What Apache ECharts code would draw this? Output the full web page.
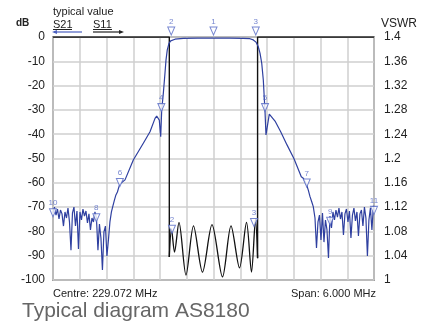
<!DOCTYPE html>
<html><head><meta charset="utf-8">
<script src="https://cdn.jsdelivr.net/npm/echarts@6.0.0/dist/echarts.min.js"></script>
<style>html,body{margin:0;padding:0;background:#fff}#c{width:428px;height:329px}</style>
</head><body><div id="c"></div>
<script>
// Frequency offsets from centre (MHz), S21 in dB
const s21Freq = [
 -3, -2.972, -2.944, -2.916, -2.888, -2.86, -2.832, -2.804, -2.776, -2.748,
 -2.72, -2.692, -2.664, -2.636, -2.608, -2.58, -2.552, -2.524, -2.496, -2.468,
 -2.44, -2.412, -2.384, -2.356, -2.328, -2.3, -2.272, -2.244, -2.216, -2.188,
 -2.16, -2.132, -2.104, -2.076, -2.048, -2.02, -1.992, -1.964, -1.936, -1.908,
 -1.88, -1.852, -1.824, -1.796, -1.768, -1.75,
 -1.654, -1.499, -1.312, -1.187, -1.093, -1.062, -1.013, -0.987, -0.968, -0.938,
 -0.907, -0.888, -0.864, -0.832, -0.8, -0.72, -0.564, -0.3, 0, 0.3,
 0.551, 0.682, 0.744, 0.794, 0.837, 0.869, 0.901, 0.931, 0.963, 0.981,
 1.043, 1.15, 1.256, 1.374, 1.505, 1.641, 1.679, 1.742, 1.772, 1.804, 1.836, 1.865,
 1.897, 1.925, 1.953, 1.981, 2.009, 2.037, 2.065, 2.093, 2.121, 2.149,
 2.177, 2.205, 2.233, 2.261, 2.289, 2.317, 2.345, 2.373, 2.401, 2.429,
 2.457, 2.485, 2.513, 2.541, 2.569, 2.597, 2.625, 2.653, 2.681, 2.709,
 2.737, 2.765, 2.793, 2.821, 2.849, 2.877, 2.905, 2.933, 2.961, 2.989, 3.0
];
const s21Db = [
 -72.4, -70.0, -73.3, -70.8, -74.9, -71.2, -72.8, -77.8, -72.0, -74.5,
 -70.4, -76.1, -87.7, -72.4, -70.0, -77.8, -71.6, -87.2, -72.0, -75.3,
 -70.8, -73.7, -71.6, -76.5, -72.8, -79.4, -74.5, -76.1, -72.0, -74.5,
 -87.7, -77.0, -82.7, -95.9, -80.2, -77.8, -90.1, -83.5, -76.1, -72.0,
 -69.5, -67.1, -65.0, -63.8, -61.7, -60.5,
 -58.8, -50.6, -43.7, -39.0, -33.5, -32.5, -34.2, -41.0, -30.0, -23.2,
 -14.9, -9.5, -5.3, -2.6, -1.6, -0.9, -0.6, -0.5, -0.5, -0.5,
 -0.6, -0.7, -1.2, -2.1, -4.0, -6.6, -10.7, -17.7, -30.7, -40.3,
 -31.7, -34.6, -39.0, -44.4, -50.1, -57.5, -58.1, -60.9, -63.0, -65.7, -67.8, -69.8,
 -74.5, -86.8, -76.1, -73.3, -83.5, -72.4, -84.4, -75.3, -79.4, -90.9,
 -73.7, -78.6, -72.0, -75.3, -71.2, -74.1, -70.4, -74.9, -72.0, -81.5,
 -72.8, -70.8, -76.1, -71.6, -82.7, -73.3, -70.4, -75.7, -72.0, -81.9,
 -72.8, -71.2, -77.8, -70.0, -74.5, -90.1, -75.3, -70.4, -79.4, -69.5, -72.0
];
// S11 (VSWR) passband ripple
const s11Freq = [-0.826, -0.785, -0.729, -0.645, -0.514, -0.374, -0.206, -0.028, 0.168, 0.327, 0.486, 0.617, 0.71, 0.785, 0.824];
const s11Vswr = [1.038, 1.084, 1.046, 1.095, 1.008, 1.089, 1.013, 1.091, 1.005, 1.089, 1.02, 1.095, 1.013, 1.1, 1.036];
// S11 outside passband (at / above scale top)
const s11LeftFreq = [-3, -0.826, -0.826];
const s11LeftVswr = [1.4, 1.4, 1.038];
const s11RightFreq = [0.824, 0.824, 3];
const s11RightVswr = [1.036, 1.4, 1.4];
// markers
const s21MarkLabels = ['1', '2', '3', '4', '5', '6', '7', '8', '9', '10', '11'];
const s21MarkFreq = [0, -0.79, 0.79, -0.975, 0.963, -1.75, 1.742, -2.19, 2.18, -3.0, 3.0];
const s21MarkDb = [0.8, 0.8, 0.8, -30.7, -30.7, -61.5, -61.7, -76.0, -77.5, -74.0, -73.0];
const s11MarkLabels = ['2', '3'];
const s11MarkFreq = [-0.776, 0.757];
const s11MarkVswr = [1.077, 1.088];
// axis ticks
const dbTicks = [0, -10, -20, -30, -40, -50, -60, -70, -80, -90, -100];
const vswrTicks = ['1', '1.04', '1.08', '1.12', '1.16', '1.2', '1.24', '1.28', '1.32', '1.36', '1.4'];

const zip = (a, b) => a.map((v, i) => [v, b[i]]);
const FONT = 'Liberation Sans, Arial, sans-serif';
const BLUE = '#2f40a0';
const MBLUE = '#5468c4';
const tri = 'path://M0,0 L10,0 L5,10 Z';

const markerSeries = (labels, fr, vals, yIdx) => ({
  type: 'scatter', yAxisIndex: yIdx, clip: false, z: 10,
  symbol: tri, symbolSize: [7, 8], symbolOffset: [0, '-50%'],
  itemStyle: { color: '#fff', borderColor: MBLUE, borderWidth: 1 },
  label: { show: true, position: 'top', distance: 1, formatter: p => p.name, fontSize: 8, color: MBLUE, fontFamily: FONT },
  data: labels.map((l, i) => ({ name: l, value: [fr[i], vals[i]] }))
});

const chart = echarts.init(document.getElementById('c'));
chart.setOption({
  animation: false,
  backgroundColor: '#fff',
  grid: { left: 53, top: 37, width: 321, height: 243, show: true, borderColor: '#555', borderWidth: 1.5, backgroundColor: 'transparent' },
  xAxis: { type: 'value', min: -3, max: 3, interval: 0.5,
    axisLine: { show: false }, axisTick: { show: false }, axisLabel: { show: false },
    splitLine: { show: true, lineStyle: { color: '#cfcfcf', width: 1.5 } } },
  yAxis: [
    { type: 'value', min: -100, max: 0, interval: 10, position: 'left',
      axisLine: { show: false }, axisTick: { show: false },
      axisLabel: { margin: 8, fontSize: 12, color: '#222', fontFamily: FONT, formatter: v => String(dbTicks[Math.round(-v / 10)]) },
      splitLine: { show: true, lineStyle: { color: '#cfcfcf', width: 1.5 } } },
    { type: 'value', min: 1, max: 1.4, interval: 0.04, position: 'right',
      axisLine: { show: false }, axisTick: { show: false },
      axisLabel: { margin: 10, fontSize: 12, color: '#222', fontFamily: FONT, formatter: v => vswrTicks[Math.round((v - 1) / 0.04)] },
      splitLine: { show: false } }
  ],
  series: [
    { type: 'line', yAxisIndex: 1, data: zip(s11LeftFreq, s11LeftVswr), showSymbol: false, lineStyle: { color: '#111', width: 1.4 }, z: 4 },
    { type: 'line', yAxisIndex: 1, data: zip(s11RightFreq, s11RightVswr), showSymbol: false, lineStyle: { color: '#111', width: 1.4 }, z: 4 },
    { type: 'line', yAxisIndex: 1, data: zip(s11Freq, s11Vswr), showSymbol: false, smooth: 0.3, lineStyle: { color: '#111', width: 1.3 }, z: 4 },
    { type: 'line', yAxisIndex: 0, data: zip(s21Freq, s21Db), showSymbol: false, lineStyle: { color: BLUE, width: 1.2 }, z: 5 },
    markerSeries(s21MarkLabels, s21MarkFreq, s21MarkDb, 0),
    markerSeries(s11MarkLabels, s11MarkFreq, s11MarkVswr, 1)
  ],
  graphic: [
    { type: 'text', left: 53, top: 6, style: { text: 'typical value', fontSize: 11, fill: '#222', fontFamily: FONT } },
    { type: 'text', left: 16, top: 18, style: { text: 'dB', fontSize: 10, fontWeight: 'bold', fill: '#222', fontFamily: FONT } },
    { type: 'text', left: 53, top: 19, style: { text: 'S21', fontSize: 11, fill: '#222', fontFamily: FONT } },
    { type: 'line', shape: { x1: 53, y1: 29.5, x2: 72, y2: 29.5 }, style: { stroke: '#222', lineWidth: 1 } },
    { type: 'line', shape: { x1: 54, y1: 32, x2: 82, y2: 32 }, style: { stroke: '#4b60c0', lineWidth: 1.2 } },
    { type: 'polygon', shape: { points: [[52, 32], [57, 30], [57, 34]] }, style: { fill: '#4b60c0' } },
    { type: 'text', left: 93, top: 19, style: { text: 'S11', fontSize: 11, fill: '#222', fontFamily: FONT } },
    { type: 'line', shape: { x1: 93, y1: 29.5, x2: 112, y2: 29.5 }, style: { stroke: '#222', lineWidth: 1 } },
    { type: 'line', shape: { x1: 93, y1: 32, x2: 121, y2: 32 }, style: { stroke: '#222', lineWidth: 1.2 } },
    { type: 'polygon', shape: { points: [[124, 32], [119, 30], [119, 34]] }, style: { fill: '#222' } },
    { type: 'text', left: 381, top: 18, style: { text: 'VSWR', fontSize: 12, fill: '#222', fontFamily: FONT } },
    { type: 'text', left: 53, top: 288, style: { text: 'Centre: 229.072 MHz', fontSize: 11, fill: '#222', fontFamily: FONT } },
    { type: 'text', right: 52, top: 288, style: { text: 'Span: 6.000 MHz', fontSize: 11, fill: '#222', fontFamily: FONT } },
    { type: 'text', left: 22, top: 301, style: { text: 'Typical diagram AS8180', fontSize: 21, fill: '#666', fontFamily: FONT } }
  ]
});
</script>
</body></html>
